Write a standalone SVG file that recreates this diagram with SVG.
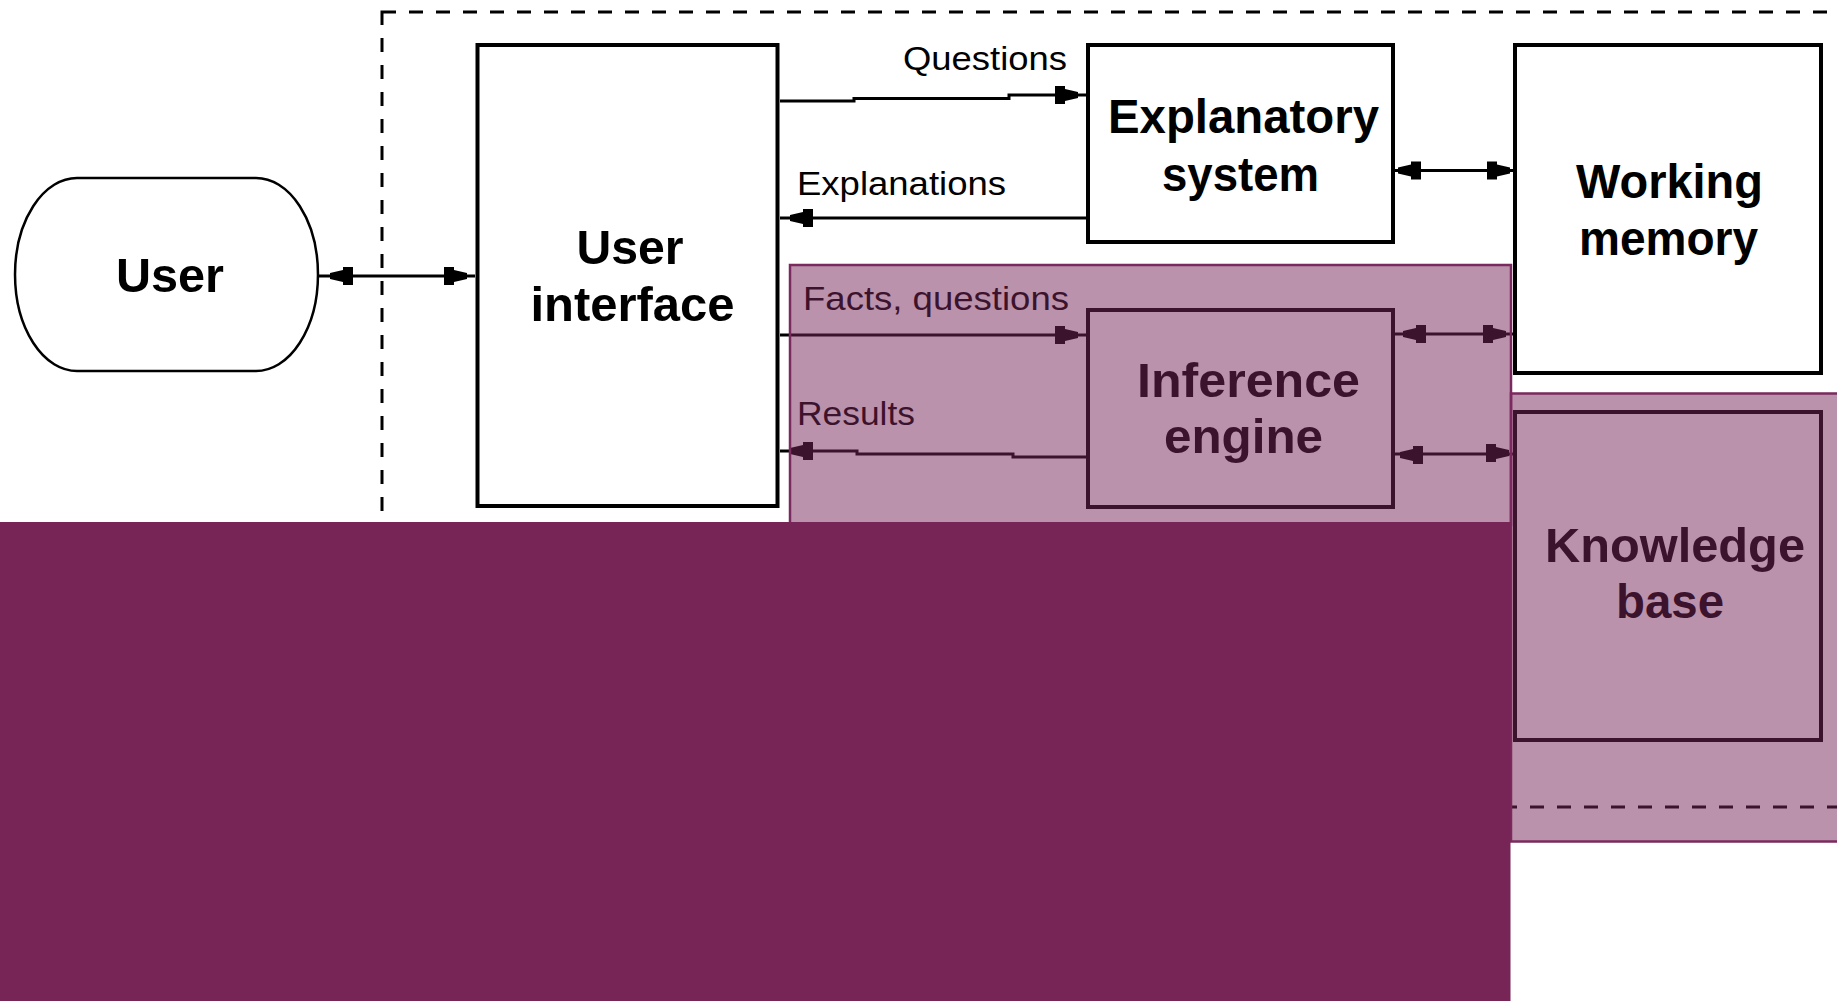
<svg xmlns="http://www.w3.org/2000/svg" xmlns:xlink="http://www.w3.org/1999/xlink" width="1837" height="1001" viewBox="0 0 1837 1001">
  <style>
    .box { fill: #ffffff; stroke: #000000; stroke-width: 4; }
    .node-label { font-family: "Liberation Sans", Arial, sans-serif; font-weight: bold; font-size: 48px; fill: #000000; text-anchor: middle; }
    .edge-label { font-family: "Liberation Sans", Arial, sans-serif; font-size: 33px; fill: #000000; }
    .wire { fill: none; stroke: #000000; stroke-width: 3; }
    .frame { fill: none; stroke: #000000; stroke-width: 3; stroke-dasharray: 14 13; }
    .zone { fill: #772557; fill-opacity: 0.5; stroke: #7a2a5e; stroke-width: 2.5; }
  </style>
  <defs>
    <!-- blocky tapered arrowhead pointing right, tip at the origin -->
    <path id="ah" d="M0,-3 L-13,-6 V-9 H-23 V9 H-13 V6 L0,3 Z" fill="#000000"/>
  </defs>

  <rect x="0" y="0" width="1837" height="1001" fill="#ffffff"/>

  <!-- system boundary -->
  <rect class="frame" x="382" y="12" width="1520" height="795"/>

  <g id="user">
    <path d="M77,178 H256 A62,96.5 0 0 1 256,371 H77 A62,96.5 0 0 1 77,178 Z" fill="#ffffff" stroke="#000000" stroke-width="2.5"/>
    <text class="node-label" x="170" y="292" textLength="108" lengthAdjust="spacingAndGlyphs">User</text>
  </g>

  <g id="user-interface">
    <rect class="box" x="477.5" y="45" width="300" height="461"/>
    <text class="node-label" x="630" y="264" textLength="107" lengthAdjust="spacingAndGlyphs">User</text>
    <text class="node-label" x="632.5" y="321" textLength="204" lengthAdjust="spacingAndGlyphs">interface</text>
  </g>

  <g id="explanatory-system">
    <rect class="box" x="1088" y="45" width="305" height="197"/>
    <text class="node-label" x="1243.5" y="133" textLength="271" lengthAdjust="spacingAndGlyphs">Explanatory</text>
    <text class="node-label" x="1240.5" y="191" textLength="157" lengthAdjust="spacingAndGlyphs">system</text>
  </g>

  <g id="working-memory">
    <rect class="box" x="1515" y="45" width="306" height="328"/>
    <text class="node-label" x="1669.5" y="198" textLength="187" lengthAdjust="spacingAndGlyphs">Working</text>
    <text class="node-label" x="1668.5" y="255" textLength="179" lengthAdjust="spacingAndGlyphs">memory</text>
  </g>

  <g id="inference-engine">
    <rect class="box" x="1088" y="310" width="305" height="197"/>
    <text class="node-label" x="1248.5" y="397" textLength="223" lengthAdjust="spacingAndGlyphs">Inference</text>
    <text class="node-label" x="1243.5" y="453" textLength="159" lengthAdjust="spacingAndGlyphs">engine</text>
  </g>

  <g id="knowledge-base">
    <rect class="box" x="1515" y="412" width="306" height="328"/>
    <text class="node-label" x="1675" y="562" textLength="260" lengthAdjust="spacingAndGlyphs">Knowledge</text>
    <text class="node-label" x="1670" y="618" textLength="108" lengthAdjust="spacingAndGlyphs">base</text>
  </g>

  <g id="connectors">
    <!-- user <-> user interface -->
    <line class="wire" x1="318" y1="276" x2="475" y2="276"/>
    <use xlink:href="#ah" transform="translate(330,276) rotate(180)"/>
    <use xlink:href="#ah" transform="translate(467,276)"/>

    <!-- questions -->
    <polyline class="wire" points="780,101 854,101 854,98.5 1009,98.5 1009,95 1086,95"/>
    <use xlink:href="#ah" transform="translate(1078,95)"/>
    <text class="edge-label" x="903" y="70" textLength="164" lengthAdjust="spacingAndGlyphs">Questions</text>

    <!-- explanations -->
    <line class="wire" x1="1086" y1="218" x2="780" y2="218"/>
    <use xlink:href="#ah" transform="translate(790,218) rotate(180)"/>
    <text class="edge-label" x="797" y="195" textLength="209" lengthAdjust="spacingAndGlyphs">Explanations</text>

    <!-- explanatory system <-> working memory -->
    <line class="wire" x1="1395" y1="170.5" x2="1513" y2="170.5"/>
    <use xlink:href="#ah" transform="translate(1398,170.5) rotate(180)"/>
    <use xlink:href="#ah" transform="translate(1510,170.5)"/>

    <!-- facts, questions -->
    <line class="wire" x1="780" y1="335" x2="1086" y2="335"/>
    <use xlink:href="#ah" transform="translate(1078,335)"/>
    <text class="edge-label" x="803" y="310" textLength="266" lengthAdjust="spacingAndGlyphs">Facts, questions</text>

    <!-- results -->
    <polyline class="wire" points="1086,457 1013,457 1013,454 857,454 857,451 780,451"/>
    <use xlink:href="#ah" transform="translate(790,451) rotate(180)"/>
    <text class="edge-label" x="797" y="425" textLength="118" lengthAdjust="spacingAndGlyphs">Results</text>

    <!-- inference engine <-> working memory -->
    <line class="wire" x1="1395" y1="334" x2="1513" y2="334"/>
    <use xlink:href="#ah" transform="translate(1403,334) rotate(180)"/>
    <use xlink:href="#ah" transform="translate(1506,334)"/>

    <!-- inference engine <-> knowledge base -->
    <line class="wire" x1="1395" y1="454" x2="1513" y2="454"/>
    <use xlink:href="#ah" transform="translate(1400,455) rotate(180)"/>
    <use xlink:href="#ah" transform="translate(1509,453)"/>
  </g>

  <!-- highlighted zones -->
  <rect class="zone" x="790" y="265" width="721" height="260"/>
  <rect class="zone" x="1511" y="393.5" width="340" height="448"/>
  <rect x="0" y="522" width="1510.5" height="479" fill="#772557"/>
</svg>
